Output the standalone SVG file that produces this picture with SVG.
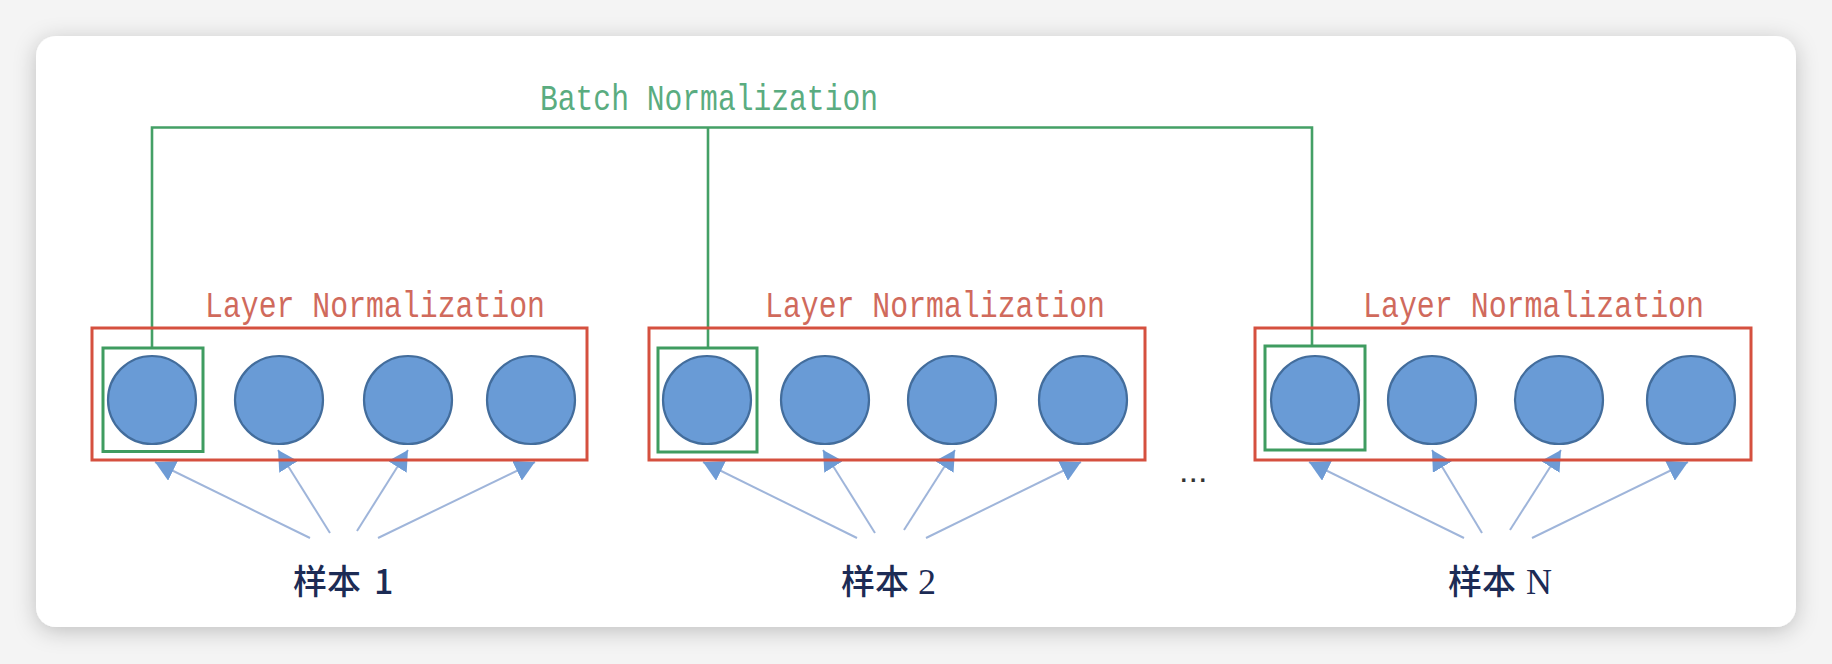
<svg xmlns="http://www.w3.org/2000/svg" width="1832" height="664" viewBox="0 0 1832 664">
<defs>
<filter id="shadow" x="-5%" y="-10%" width="110%" height="125%">
<feDropShadow dx="0" dy="4" stdDeviation="11" flood-color="#000" flood-opacity="0.22"/>
</filter>
<marker id="ah" markerUnits="userSpaceOnUse" markerWidth="22" markerHeight="22" refX="20" refY="11" orient="auto" viewBox="0 0 22 22">
<path d="M0,0 L20,11 L0,22 z" fill="#6e9bd5"/>
</marker>
<style>
.red{fill:none;stroke:#d5503f;stroke-width:3}
.grn{fill:none;stroke:#3f9c60;stroke-width:3}
.bn{fill:none;stroke:#44a066;stroke-width:2.6}
.node{fill:#699bd6;stroke:#436d9c;stroke-width:2.2}
.arr{fill:none;stroke:#9fb5da;stroke-width:2;marker-end:url(#ah)}
.ln{font-family:"Liberation Mono",monospace;font-size:36px;fill:#d06a5c}
.bt{font-family:"Liberation Mono",monospace;font-size:36px;fill:#5aac80}
.sm{font-family:"Noto Sans CJK SC",sans-serif;font-size:34px;font-weight:500;fill:#1c2b55}
.ser{font-family:"Liberation Serif",serif;font-weight:400}
</style>
</defs>
<rect x="0" y="0" width="1832" height="664" fill="#f4f4f4"/>
<rect x="36" y="36" width="1760" height="591" rx="20" fill="#ffffff" filter="url(#shadow)"/>

<g id="connectors">
<polyline class="bn" points="152,348 152,127.5 1312,127.5 1312,346"/>
<line class="bn" x1="708" y1="127.5" x2="708" y2="348"/>
<line class="arr" x1="310" y1="538" x2="155" y2="462"/>
<line class="arr" x1="330" y1="533" x2="278" y2="450"/>
<line class="arr" x1="357" y1="531" x2="408" y2="450"/>
<line class="arr" x1="378" y1="538" x2="535" y2="462"/>
<line class="arr" x1="857" y1="538" x2="703" y2="462"/>
<line class="arr" x1="875" y1="533" x2="823" y2="450"/>
<line class="arr" x1="904" y1="530" x2="955" y2="450"/>
<line class="arr" x1="926" y1="538" x2="1081" y2="462"/>
<line class="arr" x1="1464" y1="538" x2="1309" y2="462"/>
<line class="arr" x1="1482" y1="533" x2="1432" y2="450"/>
<line class="arr" x1="1510" y1="530" x2="1561" y2="450"/>
<line class="arr" x1="1532" y1="538" x2="1688" y2="462"/>
</g>

<g id="batch-label">
<text class="bt" x="540" y="110" textLength="338" lengthAdjust="spacingAndGlyphs">Batch Normalization</text>
</g>

<g id="sample1">
<text class="ln" x="205" y="317" textLength="340" lengthAdjust="spacingAndGlyphs">Layer Normalization</text>
<rect class="red" x="92" y="328" width="495" height="132"/>
<rect class="grn" x="103" y="348" width="100" height="103.5"/>
<circle class="node" cx="152" cy="400" r="44"/>
<circle class="node" cx="279" cy="400" r="44"/>
<circle class="node" cx="408" cy="400" r="44"/>
<circle class="node" cx="531" cy="400" r="44"/>
<text class="sm" x="293" y="594">样本<tspan x="374">1</tspan></text>
</g>

<g id="sample2">
<text class="ln" x="765" y="317" textLength="340" lengthAdjust="spacingAndGlyphs">Layer Normalization</text>
<rect class="red" x="649" y="328" width="496" height="132"/>
<rect class="grn" x="658" y="348" width="99" height="104"/>
<circle class="node" cx="707" cy="400" r="44"/>
<circle class="node" cx="825" cy="400" r="44"/>
<circle class="node" cx="952" cy="400" r="44"/>
<circle class="node" cx="1083" cy="400" r="44"/>
<text class="sm" x="841" y="594">样本<tspan class="ser" x="918" font-size="36">2</tspan></text>
</g>

<g id="ellipsis">
<text x="1179" y="482" font-family="Liberation Sans, sans-serif" font-size="34" fill="#333333">...</text>
</g>

<g id="sampleN">
<text class="ln" x="1363" y="317" textLength="341" lengthAdjust="spacingAndGlyphs">Layer Normalization</text>
<rect class="red" x="1255" y="328" width="496" height="132"/>
<rect class="grn" x="1265" y="346" width="100" height="104"/>
<circle class="node" cx="1315" cy="400" r="44"/>
<circle class="node" cx="1432" cy="400" r="44"/>
<circle class="node" cx="1559" cy="400" r="44"/>
<circle class="node" cx="1691" cy="400" r="44"/>
<text class="sm" x="1448" y="594">样本<tspan class="ser" x="1526" font-size="36">N</tspan></text>
</g>
</svg>
